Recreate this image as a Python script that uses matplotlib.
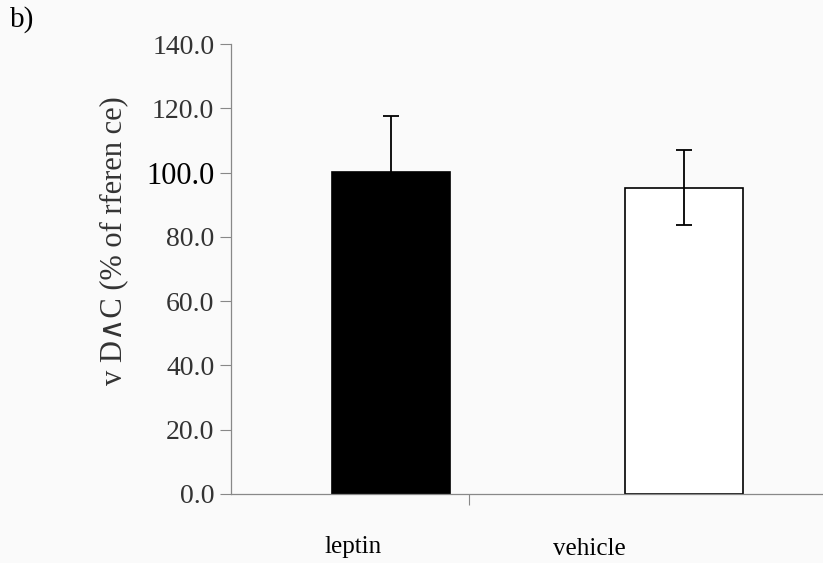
import matplotlib
matplotlib.use("Agg")
import matplotlib.pyplot as plt

# values
groups = ["leptin", "vehicle"]
means = [100.3, 95.3]
errors = [17.4, 11.7]
bar_colors = ["black", "white"]
yticks = [0, 20, 40, 60, 80, 100, 120, 140]

serif = ["Liberation Serif", "DejaVu Sans"]

fig = plt.figure(figsize=(8.23, 5.63), dpi=100)
fig.patch.set_facecolor("#fafafa")
ax = fig.add_axes([0.2807, 0.1226, 0.7193, 0.7992])
ax.set_facecolor("#fafafa")

pos = [0, 1]
ax.bar(pos, means, width=0.40, color=bar_colors, edgecolor="black", linewidth=1.2, zorder=2)
ax.errorbar(pos, means, yerr=errors, fmt="none", ecolor="black", elinewidth=1.3,
            capsize=5.5, capthick=1.3, zorder=3)

ax.set_ylim(0, 140)
ax.set_xlim(-0.546, 1.474)

# y axis
ax.set_yticks(yticks)
ax.set_yticklabels(["%.1f" % v for v in yticks], fontfamily=serif, fontsize=20, color="#333333")
ax.tick_params(axis="y", direction="out", length=8, width=0.8, color="#888888", pad=4)
for lab in ax.get_yticklabels():
    if lab.get_text() == "100.0":
        lab.set_color("black")
        lab.set_fontsize(22)

# x axis: one divider tick, labels placed below
ax.set_xticks([0.266])
ax.set_xticklabels([""])
ax.tick_params(axis="x", direction="out", length=8, width=0.8, color="#888888")
ax.text(0.206, -0.118, groups[0], transform=ax.transAxes, ha="center", va="center",
        fontfamily=serif, fontsize=18)
ax.text(0.606, -0.122, groups[1], transform=ax.transAxes, ha="center", va="center",
        fontfamily=serif, fontsize=18)

for s in ["top", "right"]:
    ax.spines[s].set_visible(False)
for s in ["left", "bottom"]:
    ax.spines[s].set_color("#888888")
    ax.spines[s].set_linewidth(0.9)

fig.text(114 / 823, 1 - 241 / 563, "v D\u2227C (% of rferen ce)", rotation=90,
         ha="center", va="center", fontfamily=serif, fontsize=22, color="#333333")
fig.text(10 / 823, 1 - 20 / 563, "b)", ha="left", va="center", fontfamily=serif, fontsize=21)

fig.savefig("out.png", dpi=100, facecolor=fig.get_facecolor())
